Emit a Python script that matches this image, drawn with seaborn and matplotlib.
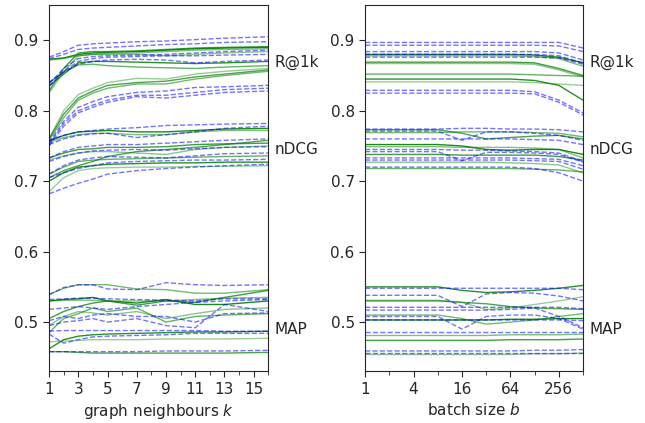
import numpy as np
import pandas as pd
import matplotlib
matplotlib.use('Agg')
import matplotlib.pyplot as plt
import matplotlib.transforms as mtransforms
from matplotlib.ticker import FixedLocator, NullFormatter
import seaborn as sns

# x positions
k_vals = [1, 2, 3, 4, 5, 7, 9, 11, 13, 16]
b_vals = [1, 2, 4, 8, 16, 32, 64, 128, 256, 512]

# left panel: graph neighbours k (green = solid, blue = dashed)
k_green = [
    # R@1k
    [0.873, 0.875, 0.880, 0.882, 0.883, 0.884, 0.886, 0.888, 0.889, 0.890],
    [0.872, 0.874, 0.878, 0.880, 0.881, 0.882, 0.884, 0.886, 0.887, 0.888],
    [0.828, 0.860, 0.882, 0.884, 0.884, 0.885, 0.887, 0.889, 0.890, 0.891],
    [0.825, 0.855, 0.878, 0.880, 0.880, 0.880, 0.878, 0.880, 0.882, 0.884],
    [0.840, 0.855, 0.865, 0.866, 0.864, 0.862, 0.861, 0.860, 0.862, 0.864],
    [0.835, 0.852, 0.868, 0.870, 0.870, 0.869, 0.868, 0.867, 0.868, 0.870],
    [0.760, 0.800, 0.823, 0.832, 0.840, 0.846, 0.845, 0.852, 0.856, 0.860],
    [0.760, 0.795, 0.818, 0.828, 0.836, 0.840, 0.842, 0.848, 0.852, 0.858],
    [0.758, 0.790, 0.815, 0.825, 0.832, 0.838, 0.838, 0.845, 0.850, 0.856],
    # nDCG
    [0.757, 0.765, 0.770, 0.771, 0.772, 0.770, 0.770, 0.772, 0.774, 0.775],
    [0.755, 0.762, 0.766, 0.768, 0.768, 0.766, 0.766, 0.770, 0.772, 0.772],
    [0.733, 0.740, 0.745, 0.746, 0.748, 0.748, 0.749, 0.752, 0.753, 0.754],
    [0.730, 0.736, 0.740, 0.742, 0.742, 0.740, 0.738, 0.745, 0.748, 0.750],
    [0.710, 0.720, 0.728, 0.730, 0.731, 0.732, 0.733, 0.734, 0.735, 0.736],
    [0.700, 0.712, 0.720, 0.722, 0.724, 0.725, 0.726, 0.726, 0.727, 0.727],
    [0.685, 0.705, 0.715, 0.718, 0.719, 0.720, 0.720, 0.721, 0.721, 0.722],
    [0.705, 0.715, 0.722, 0.728, 0.735, 0.742, 0.745, 0.748, 0.752, 0.758],
    # MAP
    [0.539, 0.548, 0.553, 0.553, 0.553, 0.547, 0.546, 0.541, 0.541, 0.546],
    [0.530, 0.532, 0.533, 0.535, 0.530, 0.527, 0.532, 0.525, 0.525, 0.530],
    [0.530, 0.531, 0.531, 0.531, 0.530, 0.530, 0.530, 0.532, 0.534, 0.535],
    [0.505, 0.515, 0.522, 0.527, 0.530, 0.524, 0.530, 0.528, 0.535, 0.545],
    [0.495, 0.508, 0.515, 0.513, 0.510, 0.515, 0.505, 0.512, 0.518, 0.520],
    [0.485, 0.505, 0.512, 0.520, 0.515, 0.520, 0.500, 0.508, 0.510, 0.512],
    [0.462, 0.475, 0.480, 0.482, 0.483, 0.484, 0.485, 0.486, 0.486, 0.487],
    [0.472, 0.473, 0.474, 0.475, 0.475, 0.475, 0.476, 0.476, 0.476, 0.477],
    [0.458, 0.458, 0.457, 0.456, 0.456, 0.456, 0.456, 0.456, 0.456, 0.457],
]
k_blue = [
    # R@1k
    [0.876, 0.884, 0.893, 0.895, 0.896, 0.898, 0.899, 0.901, 0.903, 0.905],
    [0.874, 0.880, 0.887, 0.889, 0.890, 0.892, 0.894, 0.895, 0.897, 0.898],
    [0.838, 0.860, 0.874, 0.877, 0.878, 0.879, 0.880, 0.882, 0.884, 0.886],
    [0.835, 0.856, 0.870, 0.874, 0.876, 0.877, 0.878, 0.878, 0.879, 0.880],
    [0.840, 0.855, 0.866, 0.870, 0.872, 0.873, 0.872, 0.868, 0.870, 0.872],
    [0.755, 0.785, 0.805, 0.813, 0.820, 0.826, 0.828, 0.833, 0.834, 0.836],
    [0.752, 0.782, 0.800, 0.808, 0.815, 0.822, 0.822, 0.826, 0.830, 0.832],
    [0.750, 0.778, 0.797, 0.805, 0.812, 0.820, 0.818, 0.822, 0.826, 0.828],
    # nDCG
    [0.758, 0.765, 0.770, 0.772, 0.774, 0.776, 0.779, 0.780, 0.781, 0.782],
    [0.752, 0.760, 0.765, 0.767, 0.768, 0.762, 0.766, 0.770, 0.775, 0.778],
    [0.733, 0.742, 0.748, 0.750, 0.752, 0.752, 0.754, 0.756, 0.758, 0.760],
    [0.728, 0.735, 0.740, 0.743, 0.744, 0.745, 0.744, 0.746, 0.748, 0.749],
    [0.710, 0.722, 0.730, 0.733, 0.735, 0.734, 0.733, 0.736, 0.739, 0.740],
    [0.705, 0.712, 0.718, 0.722, 0.726, 0.728, 0.729, 0.730, 0.730, 0.731],
    [0.682, 0.690, 0.697, 0.703, 0.710, 0.715, 0.718, 0.720, 0.722, 0.724],
    # MAP
    [0.539, 0.549, 0.553, 0.553, 0.547, 0.546, 0.556, 0.553, 0.552, 0.553],
    [0.532, 0.533, 0.534, 0.534, 0.533, 0.532, 0.531, 0.530, 0.533, 0.533],
    [0.518, 0.520, 0.522, 0.520, 0.518, 0.522, 0.525, 0.528, 0.530, 0.532],
    [0.502, 0.508, 0.505, 0.510, 0.512, 0.508, 0.508, 0.500, 0.512, 0.513],
    [0.495, 0.500, 0.502, 0.505, 0.500, 0.505, 0.495, 0.492, 0.525, 0.515],
    [0.487, 0.488, 0.488, 0.488, 0.488, 0.488, 0.488, 0.488, 0.487, 0.487],
    [0.483, 0.470, 0.475, 0.479, 0.480, 0.481, 0.482, 0.484, 0.484, 0.484],
    [0.458, 0.458, 0.458, 0.458, 0.458, 0.458, 0.459, 0.459, 0.459, 0.460],
]

# right panel: batch size b
b_green = [
    # R@1k
    [0.880, 0.880, 0.880, 0.880, 0.880, 0.880, 0.880, 0.879, 0.876, 0.868],
    [0.878, 0.878, 0.878, 0.878, 0.878, 0.878, 0.878, 0.877, 0.874, 0.863],
    [0.869, 0.869, 0.869, 0.869, 0.869, 0.869, 0.869, 0.868, 0.860, 0.850],
    [0.867, 0.867, 0.867, 0.867, 0.867, 0.867, 0.867, 0.866, 0.858, 0.848],
    [0.852, 0.852, 0.852, 0.852, 0.852, 0.852, 0.852, 0.851, 0.850, 0.849],
    [0.845, 0.845, 0.845, 0.845, 0.845, 0.845, 0.845, 0.843, 0.836, 0.815],
    [0.841, 0.841, 0.841, 0.841, 0.841, 0.841, 0.841, 0.840, 0.838, 0.836],
    # nDCG
    [0.773, 0.773, 0.773, 0.773, 0.768, 0.760, 0.762, 0.764, 0.765, 0.760],
    [0.769, 0.769, 0.769, 0.769, 0.770, 0.770, 0.770, 0.769, 0.768, 0.763],
    [0.752, 0.752, 0.752, 0.752, 0.750, 0.745, 0.744, 0.745, 0.745, 0.738],
    [0.749, 0.749, 0.749, 0.749, 0.748, 0.748, 0.748, 0.747, 0.745, 0.733],
    [0.738, 0.738, 0.738, 0.738, 0.737, 0.737, 0.737, 0.737, 0.735, 0.730],
    [0.727, 0.727, 0.727, 0.727, 0.727, 0.727, 0.726, 0.725, 0.723, 0.712],
    [0.718, 0.718, 0.718, 0.718, 0.718, 0.718, 0.718, 0.717, 0.716, 0.713],
    # MAP
    [0.550, 0.550, 0.550, 0.550, 0.545, 0.542, 0.543, 0.545, 0.548, 0.552],
    [0.531, 0.531, 0.531, 0.531, 0.528, 0.518, 0.520, 0.525, 0.530, 0.536],
    [0.530, 0.530, 0.530, 0.530, 0.528, 0.526, 0.522, 0.520, 0.519, 0.518],
    [0.510, 0.510, 0.510, 0.510, 0.505, 0.497, 0.500, 0.503, 0.508, 0.512],
    [0.503, 0.503, 0.503, 0.503, 0.503, 0.503, 0.504, 0.504, 0.505, 0.505],
    [0.481, 0.481, 0.481, 0.481, 0.481, 0.481, 0.482, 0.482, 0.482, 0.483],
    [0.474, 0.474, 0.474, 0.474, 0.474, 0.474, 0.475, 0.475, 0.475, 0.476],
    [0.454, 0.454, 0.454, 0.454, 0.454, 0.454, 0.454, 0.455, 0.455, 0.456],
]
b_blue = [
    # R@1k
    [0.897, 0.897, 0.897, 0.897, 0.897, 0.897, 0.897, 0.897, 0.897, 0.889],
    [0.893, 0.893, 0.893, 0.893, 0.893, 0.893, 0.893, 0.893, 0.892, 0.884],
    [0.884, 0.884, 0.884, 0.884, 0.884, 0.884, 0.884, 0.884, 0.882, 0.872],
    [0.880, 0.880, 0.880, 0.880, 0.880, 0.880, 0.880, 0.880, 0.878, 0.868],
    [0.876, 0.876, 0.876, 0.876, 0.876, 0.876, 0.876, 0.876, 0.875, 0.866],
    [0.829, 0.829, 0.829, 0.829, 0.829, 0.829, 0.829, 0.827, 0.815, 0.797],
    [0.825, 0.825, 0.825, 0.825, 0.825, 0.825, 0.825, 0.824, 0.812, 0.794],
    # nDCG
    [0.774, 0.774, 0.774, 0.774, 0.775, 0.775, 0.774, 0.774, 0.773, 0.770],
    [0.771, 0.771, 0.771, 0.771, 0.758, 0.770, 0.770, 0.768, 0.765, 0.758],
    [0.760, 0.760, 0.760, 0.760, 0.760, 0.760, 0.760, 0.759, 0.758, 0.752],
    [0.745, 0.745, 0.745, 0.745, 0.744, 0.744, 0.743, 0.742, 0.740, 0.728],
    [0.742, 0.742, 0.742, 0.742, 0.729, 0.741, 0.741, 0.740, 0.738, 0.727],
    [0.733, 0.733, 0.733, 0.733, 0.733, 0.733, 0.733, 0.732, 0.731, 0.722],
    [0.730, 0.730, 0.730, 0.730, 0.730, 0.730, 0.730, 0.729, 0.728, 0.717],
    [0.720, 0.720, 0.720, 0.720, 0.720, 0.720, 0.720, 0.718, 0.712, 0.700],
    # MAP
    [0.548, 0.548, 0.548, 0.548, 0.548, 0.548, 0.548, 0.548, 0.548, 0.546],
    [0.538, 0.538, 0.538, 0.538, 0.522, 0.540, 0.542, 0.541, 0.537, 0.530],
    [0.521, 0.521, 0.521, 0.521, 0.521, 0.521, 0.521, 0.521, 0.521, 0.519],
    [0.517, 0.517, 0.517, 0.517, 0.517, 0.517, 0.518, 0.520, 0.508, 0.492],
    [0.508, 0.508, 0.508, 0.508, 0.490, 0.508, 0.510, 0.510, 0.505, 0.490],
    [0.503, 0.503, 0.503, 0.503, 0.503, 0.503, 0.503, 0.503, 0.503, 0.502],
    [0.486, 0.486, 0.486, 0.486, 0.486, 0.486, 0.486, 0.486, 0.486, 0.486],
    [0.459, 0.459, 0.459, 0.459, 0.459, 0.459, 0.459, 0.460, 0.460, 0.461],
    [0.456, 0.456, 0.456, 0.456, 0.456, 0.456, 0.456, 0.456, 0.456, 0.456],
]

metric_names = ['R@1k', 'nDCG', 'MAP']
metric_label_y = [0.868, 0.745, 0.490]

sns.set_style('ticks')
plt.rcParams['font.family'] = ['DejaVu Sans']
plt.rcParams['font.size'] = 11

fig = plt.figure(figsize=(6.45, 4.23), dpi=100)
ax1 = fig.add_axes([0.076, 0.122, 0.340, 0.866])
ax2 = fig.add_axes([0.566, 0.122, 0.338, 0.866])

green_alphas = [0.9, 0.5, 0.75, 0.45, 0.6, 0.85, 0.4, 0.7, 0.55]


def draw(ax, xs, greens, blues):
    for i, ys in enumerate(greens):
        sns.lineplot(x=xs, y=ys, ax=ax, color='green', lw=1.0,
                     alpha=green_alphas[i % len(green_alphas)], legend=False)
    for ys in blues:
        sns.lineplot(x=xs, y=ys, ax=ax, color='blue', lw=1.0, ls='--',
                     alpha=0.55, legend=False)
    trans = mtransforms.blended_transform_factory(ax.transAxes, ax.transData)
    for name, y in zip(metric_names, metric_label_y):
        ax.text(1.03, y, name, transform=trans, va='center', ha='left', fontsize=11)
    ax.set_ylim(0.43, 0.95)
    ax.set_yticks([0.5, 0.6, 0.7, 0.8, 0.9])
    ax.set_ylabel('')


draw(ax1, k_vals, k_green, k_blue)
ax1.set_xlim(1, 16)
ax1.set_xticks([1, 3, 5, 7, 9, 11, 13, 15])
ax1.xaxis.set_minor_locator(FixedLocator(list(range(1, 17))))
ax1.set_xlabel('graph neighbours $k$')

draw(ax2, b_vals, b_green, b_blue)
ax2.set_xscale('log', base=2)
ax2.set_xlim(1, 512)
ax2.set_xticks([1, 4, 16, 64, 256])
ax2.set_xticklabels(['1', '4', '16', '64', '256'])
ax2.xaxis.set_minor_locator(FixedLocator([2, 8, 32, 128, 512]))
ax2.xaxis.set_minor_formatter(NullFormatter())
ax2.set_xlabel('batch size $b$')

for ax in (ax1, ax2):
    ax.tick_params(which='major', length=4)
    ax.tick_params(which='minor', length=3)

fig.savefig('out.png', dpi=100)
